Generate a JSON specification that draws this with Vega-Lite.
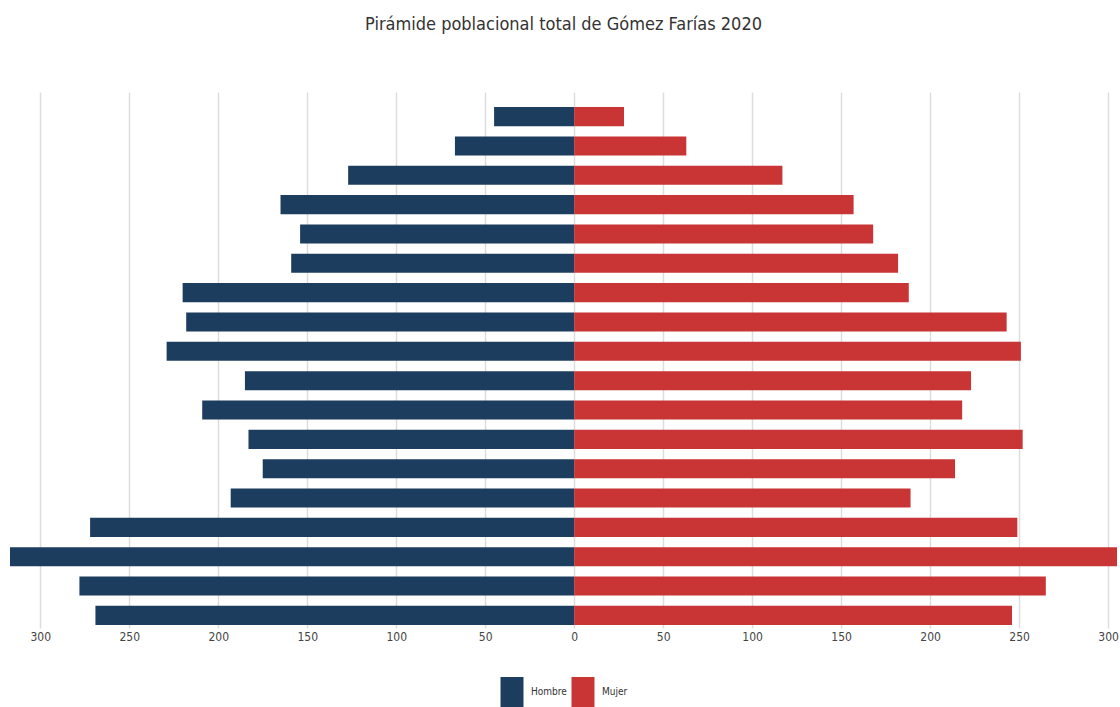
{
  "$schema": "https://vega.github.io/schema/vega-lite/v6.json",
  "width": 1107,
  "height": 536,
  "padding": {"left": 10, "top": 16, "right": 3, "bottom": 0},
  "background": "white",
  "title": {
    "text": "Pirámide poblacional total de Gómez Farías 2020",
    "fontSize": 18,
    "font": "DejaVu Sans Condensed, sans-serif",
    "fontWeight": "normal",
    "color": "#333333",
    "anchor": "middle",
    "offset": 58
  },
  "data": {
    "values": [
      {"edad": "85+", "sexo": "Hombre", "poblacion": 45},
      {"edad": "80-84", "sexo": "Hombre", "poblacion": 67},
      {"edad": "75-79", "sexo": "Hombre", "poblacion": 127},
      {"edad": "70-74", "sexo": "Hombre", "poblacion": 165},
      {"edad": "65-69", "sexo": "Hombre", "poblacion": 154},
      {"edad": "60-64", "sexo": "Hombre", "poblacion": 159},
      {"edad": "55-59", "sexo": "Hombre", "poblacion": 220},
      {"edad": "50-54", "sexo": "Hombre", "poblacion": 218},
      {"edad": "45-49", "sexo": "Hombre", "poblacion": 229},
      {"edad": "40-44", "sexo": "Hombre", "poblacion": 185},
      {"edad": "35-39", "sexo": "Hombre", "poblacion": 209},
      {"edad": "30-34", "sexo": "Hombre", "poblacion": 183},
      {"edad": "25-29", "sexo": "Hombre", "poblacion": 175},
      {"edad": "20-24", "sexo": "Hombre", "poblacion": 193},
      {"edad": "15-19", "sexo": "Hombre", "poblacion": 272},
      {"edad": "10-14", "sexo": "Hombre", "poblacion": 317},
      {"edad": "5-9", "sexo": "Hombre", "poblacion": 278},
      {"edad": "0-4", "sexo": "Hombre", "poblacion": 269},
      {"edad": "85+", "sexo": "Mujer", "poblacion": 28},
      {"edad": "80-84", "sexo": "Mujer", "poblacion": 63},
      {"edad": "75-79", "sexo": "Mujer", "poblacion": 117},
      {"edad": "70-74", "sexo": "Mujer", "poblacion": 157},
      {"edad": "65-69", "sexo": "Mujer", "poblacion": 168},
      {"edad": "60-64", "sexo": "Mujer", "poblacion": 182},
      {"edad": "55-59", "sexo": "Mujer", "poblacion": 188},
      {"edad": "50-54", "sexo": "Mujer", "poblacion": 243},
      {"edad": "45-49", "sexo": "Mujer", "poblacion": 251},
      {"edad": "40-44", "sexo": "Mujer", "poblacion": 223},
      {"edad": "35-39", "sexo": "Mujer", "poblacion": 218},
      {"edad": "30-34", "sexo": "Mujer", "poblacion": 252},
      {"edad": "25-29", "sexo": "Mujer", "poblacion": 214},
      {"edad": "20-24", "sexo": "Mujer", "poblacion": 189},
      {"edad": "15-19", "sexo": "Mujer", "poblacion": 249},
      {"edad": "10-14", "sexo": "Mujer", "poblacion": 305},
      {"edad": "5-9", "sexo": "Mujer", "poblacion": 265},
      {"edad": "0-4", "sexo": "Mujer", "poblacion": 246}
    ]
  },
  "transform": [
    {"calculate": "datum.sexo === 'Hombre' ? -datum.poblacion : datum.poblacion", "as": "valor"}
  ],
  "mark": {"type": "bar"},
  "encoding": {
    "y": {
      "field": "edad",
      "type": "nominal",
      "sort": ["85+", "80-84", "75-79", "70-74", "65-69", "60-64", "55-59", "50-54", "45-49", "40-44", "35-39", "30-34", "25-29", "20-24", "15-19", "10-14", "5-9", "0-4"],
      "scale": {"paddingInner": 0.35, "paddingOuter": 0.31, "align": 0.83},
      "axis": null
    },
    "x": {
      "field": "valor",
      "type": "quantitative",
      "scale": {"domain": [-317, 305], "nice": false, "zero": false},
      "axis": {
        "title": null,
        "values": [-300, -250, -200, -150, -100, -50, 0, 50, 100, 150, 200, 250, 300],
        "labelExpr": "format(abs(datum.value), 'd')",
        "domain": false,
        "ticks": false,
        "grid": true,
        "gridColor": "#dddddd",
        "gridWidth": 1.5,
        "labelFont": "DejaVu Sans Condensed, sans-serif",
        "labelFontSize": 12,
        "labelColor": "#444444",
        "labelPadding": 3
      }
    },
    "color": {
      "field": "sexo",
      "type": "nominal",
      "scale": {"domain": ["Hombre", "Mujer"], "range": ["#1d3d5f", "#c93535"]},
      "legend": {
        "title": null,
        "orient": "none",
        "legendX": 487,
        "legendY": 585,
        "direction": "horizontal",
        "symbolType": "M-0.766,-1H0.766V1H-0.766Z",
        "symbolSize": 900,
        "symbolStrokeWidth": 0,
        "labelFont": "DejaVu Sans Condensed, sans-serif",
        "labelFontSize": 10,
        "labelColor": "#333333",
        "columnPadding": 1,
        "labelOffset": 4
      }
    }
  },
  "config": {
    "view": {"stroke": null}
  }
}
